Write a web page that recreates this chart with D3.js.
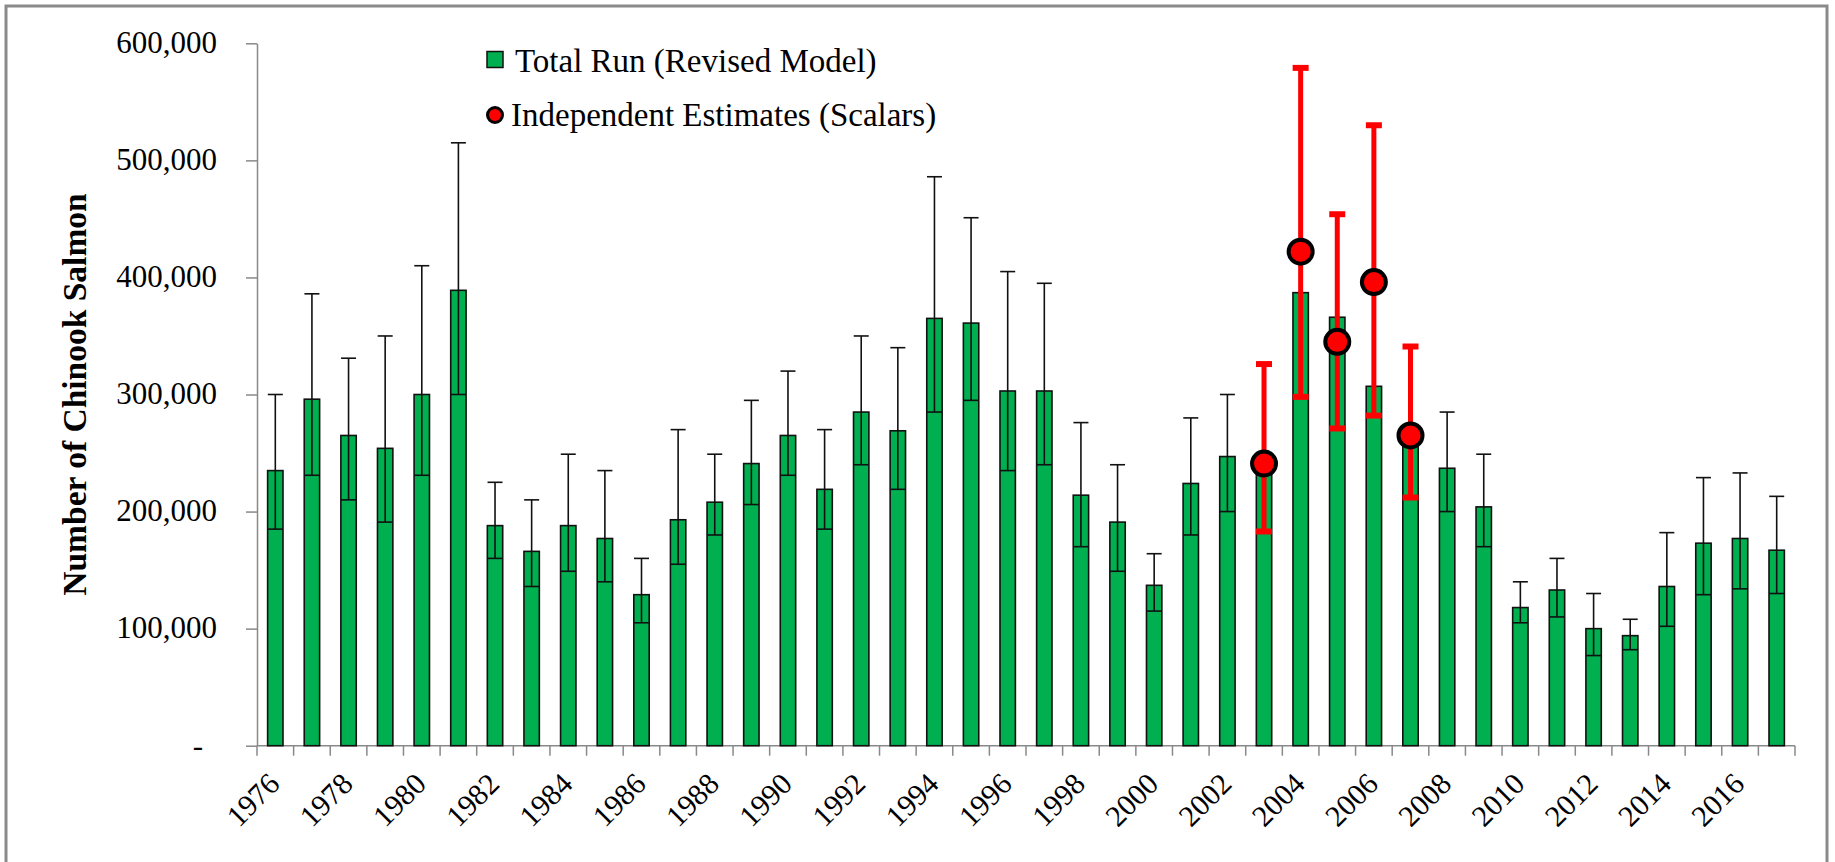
<!DOCTYPE html>
<html>
<head>
<meta charset="utf-8">
<script src="https://cdn.jsdelivr.net/npm/d3@7"></script>
<style>
  html, body { margin: 0; padding: 0; background: #fff; }
  svg text { font-family: "Liberation Serif", "Times New Roman", serif; fill: #000; }
</style>
</head>
<body>
<div id="chart"></div>
<script>
// run years (one bar each)
const years = [
  1976, 1977, 1978, 1979, 1980, 1981, 1982, 1983, 1984, 1985,
  1986, 1987, 1988, 1989, 1990, 1991, 1992, 1993, 1994, 1995,
  1996, 1997, 1998, 1999, 2000, 2001, 2002, 2003, 2004, 2005,
  2006, 2007, 2008, 2009, 2010, 2011, 2012, 2013, 2014, 2015,
  2016, 2017
];

// total run from the revised model
const totalRun = [
  235000, 296000, 265000, 254000, 300000, 389000, 188000, 166000, 188000, 177000,
  129000, 193000, 208000, 241000, 265000, 219000, 285000, 269000, 365000, 361000,
  303000, 303000, 214000, 191000, 137000, 224000, 247000, 240000, 387000, 366000,
  307000, 262000, 237000, 204000, 118000, 133000, 100000, 94000, 136000, 173000,
  177000, 167000
];

// model error bars (null where hidden behind the scalar bars)
const runLow = [
  185000, 231000, 210000, 191000, 231000, 300000, 160000, 136000, 149000, 140000,
  105000, 155000, 180000, 206000, 231000, 185000, 240000, 219000, 285000, 295000,
  235000, 240000, 170000, 149000, 115000, 180000, 200000, null, null, null,
  null, null, 200000, 170000, 105000, 110000, 77000, 82000, 102000, 129000,
  134000, 130000
];
const runHigh = [
  300000, 386000, 331000, 350000, 410000, 515000, 225000, 210000, 249000, 235000,
  160000, 270000, 249000, 295000, 320000, 270000, 350000, 340000, 486000, 451000,
  405000, 395000, 276000, 240000, 164000, 280000, 300000, null, null, null,
  null, null, 285000, 249000, 140000, 160000, 130000, 108000, 182000, 229000,
  233000, 213000
];

// independent estimates (scalars)
const scalarYears = [2003, 2004, 2005, 2006, 2007];
const scalarValues = [241000, 422000, 345000, 396000, 265000];
const scalarLow = [183000, 298000, 271000, 282000, 212000];
const scalarHigh = [326000, 579000, 454000, 530000, 341000];

const yTicks = [0, 100000, 200000, 300000, 400000, 500000, 600000];
const xLabelYears = [1976, 1978, 1980, 1982, 1984, 1986, 1988, 1990, 1992, 1994, 1996,
  1998, 2000, 2002, 2004, 2006, 2008, 2010, 2012, 2014, 2016];

const legendLabels = ["Total Run (Revised Model)", "Independent Estimates (Scalars)"];

const width = 1835, height = 862;
const margin = { left: 257, right: 40, top: 43.3, bottom: 116.3 };
const green = "#00B050";
const red = "#FF0000";
const axisGrey = "#898989";

const svg = d3.select("#chart")
  .append("svg")
  .attr("width", width)
  .attr("height", height);

// outer chart frame
svg.append("rect")
  .attr("x", 6).attr("y", 6)
  .attr("width", 1821).attr("height", 900)
  .attr("fill", "none")
  .attr("stroke", "#8a8a8a")
  .attr("stroke-width", 3);

const x = d3.scaleBand()
  .domain(years)
  .range([margin.left, width - margin.right])
  .padding(0);

const y = d3.scaleLinear()
  .domain([0, 600000])
  .range([height - margin.bottom, margin.top]);

const bw = x.bandwidth();
const barW = bw * 0.42;
const cx = yr => x(yr) + bw / 2;

// y axis
const yAxis = svg.append("g")
  .attr("transform", `translate(${margin.left},0)`)
  .call(d3.axisLeft(y)
    .tickValues(yTicks)
    .tickSize(11)
    .tickSizeOuter(0)
    .tickPadding(29)
    .tickFormat(d => d === 0 ? "-" : d3.format(",")(d)));

yAxis.select(".domain").attr("stroke", axisGrey).attr("stroke-width", 1.5);
yAxis.selectAll(".tick line").attr("stroke", axisGrey).attr("stroke-width", 1.5);
yAxis.selectAll(".tick text")
  .attr("font-size", 31)
  .attr("font-family", "Liberation Serif, Times New Roman, serif")
  .attr("fill", "#000")
  .attr("dy", "0.3em")
  .attr("dx", d => d === 0 ? -14 : 0);

// x axis line + boundary ticks
const xAxisY = y(0);
const xg = svg.append("g");
xg.append("line")
  .attr("x1", margin.left).attr("x2", width - margin.right)
  .attr("y1", xAxisY).attr("y2", xAxisY)
  .attr("stroke", axisGrey).attr("stroke-width", 1.5);

xg.selectAll("line.tick")
  .data(years.concat([null]))
  .enter()
  .append("line")
  .attr("class", "tick")
  .attr("x1", (d, i) => margin.left + i * bw)
  .attr("x2", (d, i) => margin.left + i * bw)
  .attr("y1", xAxisY)
  .attr("y2", xAxisY + 10)
  .attr("stroke", axisGrey).attr("stroke-width", 1.5);

xg.selectAll("text")
  .data(xLabelYears)
  .enter()
  .append("text")
  .attr("transform", d => `translate(${cx(d) + 6},${xAxisY + 40}) rotate(-45)`)
  .attr("text-anchor", "end")
  .attr("font-size", 30)
  .text(d => d);

// bars
const runData = years.map((yr, i) => ({ year: yr, value: totalRun[i], low: runLow[i], high: runHigh[i] }));

svg.append("g")
  .selectAll("rect")
  .data(runData)
  .enter()
  .append("rect")
  .attr("x", d => cx(d.year) - barW / 2)
  .attr("y", d => y(d.value))
  .attr("width", barW)
  .attr("height", d => y(0) - y(d.value))
  .attr("fill", green)
  .attr("stroke", "#111")
  .attr("stroke-width", 1.6);

// model error bars
const errG = svg.append("g")
  .attr("stroke", "#111")
  .attr("stroke-width", 1.6);

const withErr = runData.filter(d => d.low != null);
errG.selectAll("line.stem")
  .data(withErr)
  .enter()
  .append("line")
  .attr("x1", d => cx(d.year)).attr("x2", d => cx(d.year))
  .attr("y1", d => y(d.low)).attr("y2", d => y(d.high));

["low", "high"].forEach(k => {
  errG.selectAll("line.cap-" + k)
    .data(withErr)
    .enter()
    .append("line")
    .attr("x1", d => cx(d.year) - 7.5).attr("x2", d => cx(d.year) + 7.5)
    .attr("y1", d => y(d[k])).attr("y2", d => y(d[k]));
});

// scalar estimates with red error bars
const scalarData = scalarYears.map((yr, i) => ({ year: yr, value: scalarValues[i], low: scalarLow[i], high: scalarHigh[i] }));

const redG = svg.append("g")
  .attr("stroke", red)
  .attr("stroke-width", 5);

redG.selectAll("line.stem")
  .data(scalarData)
  .enter()
  .append("line")
  .attr("x1", d => cx(d.year)).attr("x2", d => cx(d.year))
  .attr("y1", d => y(d.low)).attr("y2", d => y(d.high));

["low", "high"].forEach(k => {
  redG.selectAll("line.cap-" + k)
    .data(scalarData)
    .enter()
    .append("line")
    .attr("stroke-width", 6)
    .attr("x1", d => cx(d.year) - 8).attr("x2", d => cx(d.year) + 8)
    .attr("y1", d => y(d[k])).attr("y2", d => y(d[k]));
});

svg.append("g")
  .selectAll("circle")
  .data(scalarData)
  .enter()
  .append("circle")
  .attr("cx", d => cx(d.year))
  .attr("cy", d => y(d.value))
  .attr("r", 12)
  .attr("fill", red)
  .attr("stroke", "#000")
  .attr("stroke-width", 4);

// y axis title
svg.append("text")
  .attr("transform", `translate(74,${(y(0) + y(600000)) / 2}) rotate(-90)`)
  .attr("text-anchor", "middle")
  .attr("dominant-baseline", "central")
  .attr("font-size", 33.5)
  .attr("font-weight", "bold")
  .text("Number of Chinook Salmon");

// legend
const legend = svg.append("g");
legend.append("rect")
  .attr("x", 487).attr("y", 51.5)
  .attr("width", 16).attr("height", 16)
  .attr("fill", green)
  .attr("stroke", "#111")
  .attr("stroke-width", 1.5);
legend.append("circle")
  .attr("cx", 495).attr("cy", 115)
  .attr("r", 7.5)
  .attr("fill", red)
  .attr("stroke", "#000")
  .attr("stroke-width", 3);
legend.selectAll("text")
  .data(legendLabels)
  .enter()
  .append("text")
  .attr("x", (d, i) => i === 0 ? 515 : 511)
  .attr("y", (d, i) => i === 0 ? 60 : 114)
  .attr("dy", "0.35em")
  .attr("font-size", 33)
  .text(d => d);
</script>
</body>
</html>
